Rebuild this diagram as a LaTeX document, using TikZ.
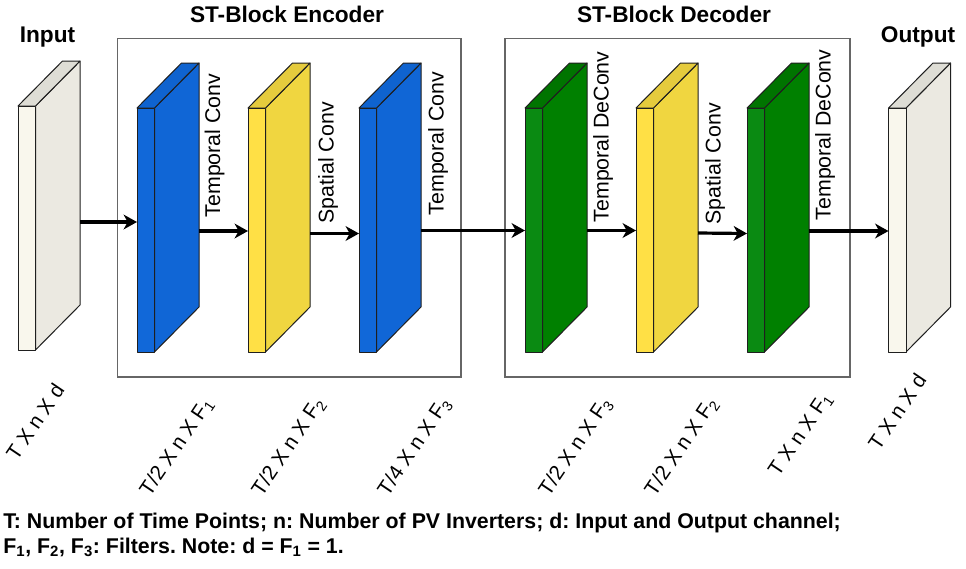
\documentclass[tikz,border=0pt]{standalone}
\usepackage{fontspec}
\setmainfont{Liberation Sans}
\usetikzlibrary{arrows.meta}
\frenchspacing
\definecolor{bluefront}{HTML}{1168D9}
\definecolor{blueside}{HTML}{1066D6}
\definecolor{bluetop}{HTML}{0F63CF}
\definecolor{yellowfront}{HTML}{FFE045}
\definecolor{yellowside}{HTML}{F0D640}
\definecolor{yellowtop}{HTML}{E5CB3D}
\definecolor{greenfront}{HTML}{0A8A12}
\definecolor{greenside}{HTML}{008000}
\definecolor{greentop}{HTML}{007400}
\definecolor{creamfront}{HTML}{F9F7ED}
\definecolor{creamside}{HTML}{EBE9E1}
\definecolor{creamtop}{HTML}{DEDDD5}
\newcommand{\drawslab}[3]{%
  \filldraw[slabline, fill=#3side] (#1+17.5,#2) -- ++(44.5,-45) -- ++(0,244) -- ++(-44.5,45) -- cycle;
  \filldraw[slabline, fill=#3top] (#1,#2) -- ++(44.5,-45) -- ++(17.5,0) -- ++(-44.5,45) -- cycle;
  \filldraw[slabline, fill=#3front] (#1,#2) rectangle ++(17.5,244);
}
\tikzset{
  slabline/.style={draw=black!88, line width=0.75pt, line join=round},
  container/.style={draw=black!60, line width=1pt},
  flow/.style={line width=2.4pt, -{Stealth[length=10pt,width=11pt,inset=3pt]}},
  title/.style={font=\bfseries\fontsize{17}{20}\selectfont, inner sep=0pt},
  oplabel/.style={font=\fontsize{16}{19}\selectfont, rotate=90, anchor=base west, inner sep=0pt},
  dimlabel/.style={font=\fontsize{15.5}{18}\selectfont, rotate=56, inner sep=0pt},
  legend/.style={font=\bfseries\fontsize{16}{19}\selectfont, anchor=base west, inner sep=0pt},
}
\begin{document}
\begin{tikzpicture}[x=0.75pt,y=-0.75pt]
\useasboundingbox (0,0) rectangle (966,568);
\fill[white] (0,0) rectangle (966,568);
% containers
\draw[container] (117.5,38.5) rectangle (461,377);
\draw[container] (505,38.5) rectangle (850,377);
% titles
\node[title, anchor=base] (tin) at (47.5,42.5) {Input};
\node[title, anchor=base] (tenc) at (287,22) {ST-Block Encoder};
\node[title, anchor=base] (tdec) at (674,22) {ST-Block Decoder};
\node[title, anchor=base] (tout) at (918,42.5) {Output};
% slabs
\drawslab{18}{106}{cream}
\drawslab{137}{108}{blue}
\drawslab{248}{108}{yellow}
\drawslab{359}{108}{blue}
\drawslab{525}{108}{green}
\drawslab{636}{108}{yellow}
\drawslab{747}{108}{green}
\drawslab{888.5}{108}{cream}
% connector end points
\coordinate (in-out) at (80,222);
\coordinate (e1-in) at (137,222);
\coordinate (e1-out) at (199,231);
\coordinate (e2-in) at (248,231);
\coordinate (e2-out) at (310,233.5);
\coordinate (e3-in) at (359,233.5);
\coordinate (e3-out) at (421,230.5);
\coordinate (d1-in) at (525,230.5);
\coordinate (d1-out) at (587,230.5);
\coordinate (d2-in) at (636,230.5);
\coordinate (d2-out) at (698,233);
\coordinate (d3-in) at (747,233.5);
\coordinate (d3-out) at (809,231);
\coordinate (o-in) at (888.5,231);
\draw[flow] (in-out) -- (e1-in);
\draw[flow] (e1-out) -- (e2-in);
\draw[flow] (e2-out) -- (e3-in);
\draw[flow] (e3-out) -- (d1-in);
\draw[flow] (d1-out) -- (d2-in);
\draw[flow] (d2-out) -- (d3-in);
\draw[flow] (d3-out) -- (o-in);
% operation labels
\node[oplabel] (l1) at (220,217.5) {Temporal Conv};
\node[oplabel] (l2) at (333.5,223.5) {Spatial Conv};
\node[oplabel] (l3) at (443.5,215.5) {Temporal Conv};
\node[oplabel] (l4) at (608.5,222.5) {Temporal DeConv};
\node[oplabel] (l5) at (720.5,224.5) {Spatial Conv};
\node[oplabel] (l6) at (830.5,220.5) {Temporal DeConv};
% dimension labels
\node[dimlabel] (s0) at (35,422) {T X n X d};
\node[dimlabel] (s1) at (177,447) {T/2 X n X F\textsubscript{1}};
\node[dimlabel] (s2) at (289,447) {T/2 X n X F\textsubscript{2}};
\node[dimlabel] (s3) at (415,447) {T/4 X n X F\textsubscript{3}};
\node[dimlabel] (s4) at (576,447) {T/2 X n X F\textsubscript{3}};
\node[dimlabel] (s5) at (682,447) {T/2 X n X F\textsubscript{2}};
\node[dimlabel] (s6) at (801,435) {T X n X F\textsubscript{1}};
\node[dimlabel] (s7) at (897,412) {T X n X d};
% legend
\node[legend] (n1) at (3,528) {T: Number of Time Points; n: Number of PV Inverters; d: Input and Output channel;};
\node[legend] (n2) at (3,553) {F\textsubscript{1}, F\textsubscript{2}, F\textsubscript{3}: Filters. Note: d = F\textsubscript{1} = 1.};
\end{tikzpicture}
\end{document}
